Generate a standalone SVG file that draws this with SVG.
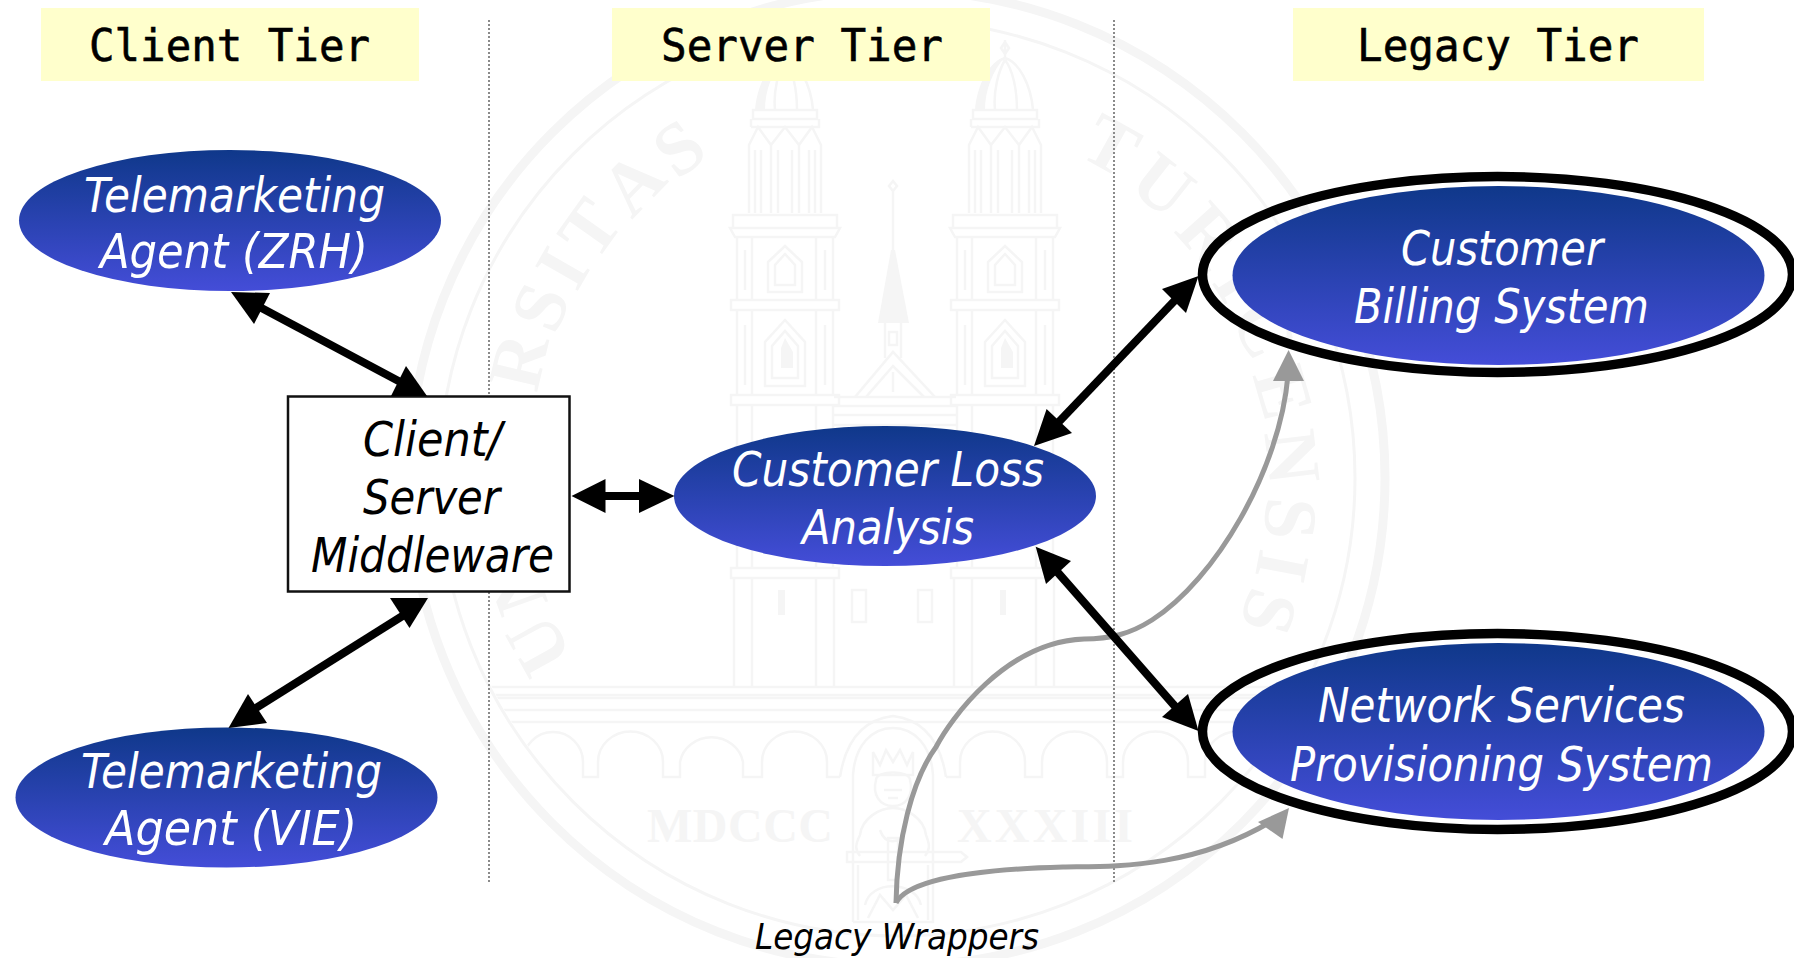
<svg xmlns="http://www.w3.org/2000/svg" width="1794" height="958" viewBox="0 0 1794 958">
<style>
.hd{fill:#ffffcc}
.ht{font-family:"DejaVu Sans Mono","Liberation Mono",monospace;font-size:44px;fill:#000;stroke:#000;stroke-width:.6}
.lb{font-family:"DejaVu Sans",Verdana,sans-serif;font-stretch:condensed;font-style:italic;font-size:48px;fill:#fff}
.dk{fill:#000}
.sm{font-size:36px}
.ring{fill:none;stroke:#000;stroke-width:9.5}
.bl{stroke:#000;stroke-width:8;fill:none}
.bh{fill:#000}
.gl{stroke:#999;stroke-width:5;fill:none}
.gh{fill:#999}
.div{stroke:#8a8a8a;stroke-width:2;stroke-dasharray:2 2;fill:none}
.w{fill:none;stroke:#f5f5f5;stroke-width:2.5}
.wf{fill:#f5f5f5;stroke:none}
.wt{font-family:"Liberation Serif",serif;font-weight:bold;fill:#f5f5f5}
</style>
<defs>
<linearGradient id="blue" x1="0" y1="0" x2="0" y2="1">
<stop offset="0" stop-color="#0f388a"/><stop offset="1" stop-color="#444dd8"/>
</linearGradient>
<clipPath id="sealclip"><circle cx="897" cy="478" r="456"/></clipPath>
<g id="tower">
<path class="w" d="M0,40V58M-4,48L0,42L4,48L0,54Z"/>
<path class="w" d="M-28,110C-26,85-14,62 0,58C14,62 26,85 28,110M-10,110C-12,90-6,70 0,60M12,110C12,90 8,70 0,60"/>
<path class="wf" d="M-30,110C-28,85-16,62 0,57C-12,70-20,90-20,110Z"/>
<path class="w" d="M-32,110H32V119H-32ZM-34,119V127M34,119V127H-34"/>
<path class="w" d="M-36,213V145L-27,127L-14,145V213M-14,145L0,127L14,145V213M14,213V145L27,127L36,145V213M-30,213V150M-24,213V150M-7,213V150M7,213V150M24,213V150M30,213V150"/>
<path class="w" d="M-52,215H52V228H-52ZM-55,228H55L50,237H-50Z"/>
<path class="w" d="M-48,237V300M-33,237V300M31,237V300M48,237V300M-40,250V290M40,250V290"/>
<path class="w" d="M-17,292V262L0,246L17,262V292ZM-10,285V265L0,254L10,265V285Z"/>
<path class="w" d="M-54,300H54V310H-54Z"/>
<path class="w" d="M-48,310V395M-33,310V395M31,310V395M48,310V395M-40,325V385M40,325V385"/>
<path class="w" d="M-20,386V342L0,320L20,342V386ZM-13,378V346L0,331L13,346V378Z"/>
<path class="wf" d="M-4,368V348L0,338L8,352V368Z"/>
<path class="w" d="M-54,395H54V405H-54Z"/>
<path class="w" d="M-48,405V568M-33,405V568M31,405V568M48,405V568"/>
<path class="w" d="M-54,568H54V578H-54Z"/>
<path class="w" d="M-51,578V687M-33,578V687M31,578V687M49,578V687"/>
</g>
</defs>

<g id="seal">
<circle cx="897" cy="478" r="488" fill="none" stroke="#f5f5f5" stroke-width="9"/>
<circle cx="897" cy="478" r="458" fill="none" stroke="#f5f5f5" stroke-width="3"/>
<text class="wt" font-size="75" x="573.4 548.6 533 528.3 528.1 536.8 555.3 576.5 595.6 631.7 677" y="657.4 602.4 544.2 509.2 448.8 393.4 336 293.1 263.3 220.1 180.5" rotate="-119 -109.65 -100.31 -94.83 -85.48 -76.78 -67.43 -60.02 -54.54 -45.83 -36.49">UNIVERSITAS</text>
<text class="wt" font-size="75" x="1077.2 1126.5 1172.7 1210.9 1229.5 1252.3 1264.3 1266.5 1260.5 1251.3" y="154.8 187.8 231.3 282.1 315.8 375 433.1 496.5 547.2 584.7" rotate="29.13 38.33 48.17 58.01 63.99 73.83 83.03 92.87 100.78 106.76">TURICENSIS</text>
<use href="#tower" x="785"/>
<use href="#tower" x="1005"/>
<path class="w" d="M893,190V250M889,186L893,181L897,186L893,191Z"/>
<path class="wf" d="M891,250H895L909,323H878Z"/>
<path class="w" d="M885,323V358M901,323V358M889,332H897V345H889Z"/>
<path class="w" d="M855,397L893,352L935,397M866,397L893,366L924,397M893,372V392"/>
<path class="w" d="M834,397H956M834,406H956M834,415H956M834,425H956"/>
<path class="wf" d="M778,590H785V615H778ZM1000,590H1006V615H1000Z"/>
<path class="w" d="M852,590H866V622H852ZM918,590H932V622H918Z"/>
<g clip-path="url(#sealclip)">
<path class="w" d="M400,687H1400M400,695H1400M400,698H1400M400,710H1400M400,722H1400"/>
<path class="w" d="M505,777H523V762A30,30 0 0 1 583,762V777H598V762A32,30 0 0 1 663,762V777H680V762A32,30 0 0 1 743,762V777H762V762A32,30 0 0 1 827,762V777H840"/>
<path class="w" d="M946,777H960V762A32,30 0 0 1 1025,762V777H1042V762A32,30 0 0 1 1107,762V777H1123V762A32,30 0 0 1 1188,762V777H1205V762A32,30 0 0 1 1270,762V777H1290"/>
</g>
<path class="w" d="M840,777C845,745 860,720 893,716C926,720 941,745 946,777"/>
<path class="w" d="M853,922V775C855,745 872,728 893,728C914,728 931,745 933,775V922H853"/>
<path class="w" d="M873,752L880,765L886,750L893,762L900,750L907,765L913,752V775H873Z"/>
<path class="w" d="M876,780C876,770 910,770 910,780C914,795 906,806 893,806C880,806 872,795 876,780ZM884,790H902M888,798H898"/>
<path class="w" d="M860,835C862,818 880,808 893,808C906,808 924,818 926,835C930,845 930,850 925,856M860,835C855,845 855,850 860,856M880,830C885,845 900,845 906,830"/>
<path class="w" d="M847,852H961L967,857L961,862H847ZM888,838H898V880H888Z"/>
<path class="w" d="M858,865V920M928,865V920M865,905C870,880 915,880 921,905M868,918L880,895L893,910L906,895L918,918"/>
<text class="wt" x="647" y="842" font-size="48" textLength="186" lengthAdjust="spacing">MDCCC</text>
<text class="wt" x="957" y="842" font-size="48" textLength="176" lengthAdjust="spacing">XXXIII</text>
</g>

<g id="tier-dividers">
<path class="div" d="M489,20V882"/>
<path class="div" d="M1114,20V882"/>
</g>

<g id="client-tier"><rect class="hd" x="41" y="8" width="378" height="73"/><text class="ht" x="89" y="61" textLength="281" lengthAdjust="spacingAndGlyphs">Client Tier</text></g>
<g id="server-tier"><rect class="hd" x="612" y="8" width="378" height="73"/><text class="ht" x="661" y="61" textLength="282" lengthAdjust="spacingAndGlyphs">Server Tier</text></g>
<g id="legacy-tier"><rect class="hd" x="1293" y="8" width="411" height="73"/><text class="ht" x="1357" y="61" textLength="282" lengthAdjust="spacingAndGlyphs">Legacy Tier</text></g>

<g id="agent-zrh"><ellipse cx="230" cy="220.5" rx="211" ry="70.5" fill="url(#blue)"/>
<text class="lb" x="84" y="212" textLength="301" lengthAdjust="spacingAndGlyphs">Telemarketing</text>
<text class="lb" x="100" y="268" textLength="268" lengthAdjust="spacingAndGlyphs">Agent (ZRH)</text></g>

<g id="agent-vie"><ellipse cx="226.5" cy="797.5" rx="211" ry="70" fill="url(#blue)"/>
<text class="lb" x="81" y="788" textLength="301" lengthAdjust="spacingAndGlyphs">Telemarketing</text>
<text class="lb" x="105" y="845" textLength="252" lengthAdjust="spacingAndGlyphs">Agent (VIE)</text></g>

<g id="middleware"><rect x="288" y="396.5" width="281.5" height="195" fill="#fff" stroke="#111" stroke-width="2.5"/>
<text class="lb dk" x="363" y="456" textLength="139" lengthAdjust="spacingAndGlyphs">Client/</text>
<text class="lb dk" x="363" y="514" textLength="137" lengthAdjust="spacingAndGlyphs">Server</text>
<text class="lb dk" x="311" y="572" textLength="243" lengthAdjust="spacingAndGlyphs">Middleware</text></g>

<g id="customer-loss"><ellipse cx="885" cy="496" rx="211" ry="70" fill="url(#blue)"/>
<text class="lb" x="732" y="486" textLength="312" lengthAdjust="spacingAndGlyphs">Customer Loss</text>
<text class="lb" x="802" y="544" textLength="172" lengthAdjust="spacingAndGlyphs">Analysis</text></g>

<g id="billing"><ellipse class="ring" cx="1497.5" cy="274.5" rx="295" ry="98"/><ellipse cx="1498.5" cy="275.5" rx="266" ry="89.5" fill="url(#blue)"/>
<text class="lb" x="1401" y="265" textLength="202" lengthAdjust="spacingAndGlyphs">Customer</text>
<text class="lb" x="1354" y="322.5" textLength="295" lengthAdjust="spacingAndGlyphs">Billing System</text></g>

<g id="network"><ellipse class="ring" cx="1497.5" cy="731.5" rx="295" ry="98"/><ellipse cx="1498.5" cy="731.5" rx="266" ry="88.5" fill="url(#blue)"/>
<text class="lb" x="1318" y="722" textLength="367" lengthAdjust="spacingAndGlyphs">Network Services</text>
<text class="lb" x="1290" y="781" textLength="423" lengthAdjust="spacingAndGlyphs">Provisioning System</text></g>

<g id="legacy-wrappers"><text class="lb dk sm" x="755" y="949" textLength="284" lengthAdjust="spacingAndGlyphs">Legacy Wrappers</text></g>

<g id="connectors">
<path class="gl" d="M896,903C897,840 912,780 936,747C950,720 1005,642 1084,639C1110,639 1130,634 1152,620C1215,580 1280,470 1288,375"/>
<polygon class="gh" points="1288.6,350 1273,381 1304,381"/>
<path class="gl" d="M896,903C905,885 950,870 1063,867C1110,866 1190,870 1272,821"/>
<polygon class="gh" points="1289,808 1258,822 1282.5,839"/>

<path class="bl" d="M252,303L406,385"/>
<polygon class="bh" points="231,292 270,293 254,324"/>
<polygon class="bh" points="427,396 391,396 406,366"/>

<path class="bl" d="M404,615L248,713"/>
<polygon class="bh" points="428,598 390,598 409.5,628"/>
<polygon class="bh" points="228.5,728 248,694 267,723"/>

<path class="bl" d="M600,496H645"/>
<polygon class="bh" points="571.5,496 605.5,479 605.5,513"/>
<polygon class="bh" points="674.5,496 639,479 639,513"/>

<path class="bl" d="M1053,428L1180,295"/>
<polygon class="bh" points="1034,446 1046.6,409 1072,433"/>
<polygon class="bh" points="1198.5,276 1162,289 1186,313"/>

<path class="bl" d="M1053,567L1180,712"/>
<polygon class="bh" points="1035.7,546.7 1071,561 1046,584"/>
<polygon class="bh" points="1198.5,731 1162,717 1188,694"/>
</g>
</svg>
